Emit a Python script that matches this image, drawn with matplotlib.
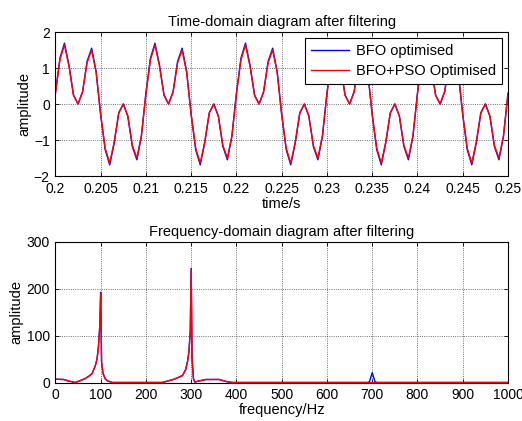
import numpy as np
import matplotlib
matplotlib.use('Agg')
import matplotlib.pyplot as plt

plt.rcParams['font.family'] = ['Liberation Sans', 'DejaVu Sans']
plt.rcParams['font.size'] = 10.5

# #############################################################################
# Time-domain samples (fs = 2000 Hz, 0.2 s .. 0.25 s)
t_start, t_end = 0.2, 0.25
bfo_time = [
    0.30, 1.27, 1.69, 1.08, 0.25, 0.00, 0.34, 1.18, 1.55, 0.90,
    -0.30, -1.27, -1.69, -1.08, -0.25, 0.00, -0.34, -1.18, -1.55, -0.90,
    0.30, 1.27, 1.69, 1.08, 0.25, 0.00, 0.34, 1.18, 1.55, 0.90,
    -0.30, -1.27, -1.69, -1.08, -0.25, 0.00, -0.34, -1.18, -1.55, -0.90,
    0.30, 1.27, 1.69, 1.08, 0.25, 0.00, 0.34, 1.18, 1.55, 0.90,
    -0.30, -1.27, -1.69, -1.08, -0.25, 0.00, -0.34, -1.18, -1.55, -0.90,
    0.30, 1.27, 1.69, 1.08, 0.25, 0.00, 0.34, 1.18, 1.55, 0.90,
    -0.30, -1.27, -1.69, -1.08, -0.25, 0.00, -0.34, -1.18, -1.55, -0.90,
    0.30, 1.27, 1.69, 1.08, 0.25, 0.00, 0.34, 1.18, 1.55, 0.90,
    -0.30, -1.27, -1.69, -1.08, -0.25, 0.00, -0.34, -1.18, -1.55, -0.90,
    0.30]
pso_time = [
    0.29, 1.23, 1.64, 1.05, 0.24, 0.00, 0.33, 1.15, 1.50, 0.88,
    -0.29, -1.23, -1.64, -1.05, -0.24, 0.00, -0.33, -1.15, -1.50, -0.88,
    0.29, 1.23, 1.64, 1.05, 0.24, 0.00, 0.33, 1.15, 1.50, 0.88,
    -0.29, -1.23, -1.64, -1.05, -0.24, 0.00, -0.33, -1.15, -1.50, -0.88,
    0.29, 1.23, 1.64, 1.05, 0.24, 0.00, 0.33, 1.15, 1.50, 0.88,
    -0.29, -1.23, -1.64, -1.05, -0.24, 0.00, -0.33, -1.15, -1.50, -0.88,
    0.29, 1.23, 1.64, 1.05, 0.24, 0.00, 0.33, 1.15, 1.50, 0.88,
    -0.29, -1.23, -1.64, -1.05, -0.24, 0.00, -0.33, -1.15, -1.50, -0.88,
    0.29, 1.23, 1.64, 1.05, 0.24, 0.00, 0.33, 1.15, 1.50, 0.88,
    -0.29, -1.23, -1.64, -1.05, -0.24, 0.00, -0.33, -1.15, -1.50, -0.88,
    0.29]
t = np.linspace(t_start, t_end, len(bfo_time))

# #############################################################################
# Spectrum breakpoints
bfo_freq = [0, 18, 30, 44, 55, 66, 75, 81, 88, 92, 95, 98, 100, 102, 105, 110,
            115, 126, 236, 259, 270, 281, 288, 292, 295, 298, 300, 302, 305,
            308, 318, 333, 362, 380, 392, 690, 694, 700, 706, 710, 1000]
bfo_amp = [7, 6.4, 3, 0, 4, 8.5, 14, 19, 35, 50, 75, 120, 192, 45, 20, 8,
           3.5, 0, 0, 6, 10, 15, 28, 45, 65, 110, 243, 50, 8,
           1, 3.5, 6.4, 6.4, 1.4, 0, 0, 2, 21, 2, 0, 0]
pso_freq = [0, 18, 30, 44, 55, 66, 75, 81, 88, 92, 95, 98, 100, 102, 105, 110,
            115, 126, 236, 259, 270, 281, 288, 292, 295, 298, 300, 302, 305,
            308, 318, 333, 362, 380, 392, 1000]
pso_amp = [7, 6.4, 3, 0, 4, 8.5, 14, 19, 35, 50, 75, 118, 188, 44, 20, 8,
           3.5, 0, 0, 6, 10, 15, 28, 45, 65, 108, 239, 50, 8,
           1, 3.5, 6.4, 6.4, 1.4, 0, 0]

W, H = 522, 421
fig = plt.figure(figsize=(W / 100, H / 100), dpi=100)
ax1 = fig.add_axes([55.4 / W, 1 - 176 / H, 452.6 / W, 144 / H])
ax2 = fig.add_axes([55.4 / W, 1 - 382.5 / H, 452.6 / W, 141 / H])


def style(ax):
    ax.grid(True, color='0.25', linestyle=':', linewidth=0.6)
    ax.tick_params(direction='in', top=True, right=True, length=3, width=0.6,
                   labelsize=10, pad=4)
    for s in ax.spines.values():
        s.set_linewidth(0.8)


lw = 1.0
ax1.plot(t, bfo_time, color='blue', lw=lw, label='BFO optimised')
ax1.plot(t, pso_time, color='red', lw=lw, label='BFO+PSO Optimised')
ax1.set_xlim(t_start, t_end)
ax1.set_ylim(-2, 2)
ax1.set_xticks([0.2, 0.205, 0.21, 0.215, 0.22, 0.225, 0.23, 0.235, 0.24, 0.245, 0.25])
ax1.set_xticklabels(['0.2', '0.205', '0.21', '0.215', '0.22', '0.225', '0.23',
                     '0.235', '0.24', '0.245', '0.25'])
ax1.set_yticks([-2, -1, 0, 1, 2])
ax1.set_xlabel('time/s', labelpad=1)
ax1.set_ylabel('amplitude', labelpad=2)
ax1.set_title('Time-domain diagram after filtering', fontsize=10.5, pad=4)
leg = ax1.legend(loc='upper right', fancybox=False, framealpha=1,
                 edgecolor='k', handlelength=2.6, handletextpad=0.5,
                 borderaxespad=0.4, labelspacing=0.45, fontsize=10.5)
leg.get_frame().set_linewidth(0.8)
style(ax1)

ax2.plot(bfo_freq, bfo_amp, color='blue', lw=lw)
ax2.plot(pso_freq, pso_amp, color='red', lw=lw)
ax2.set_xlim(0, 1000)
ax2.set_ylim(0, 300)
ax2.set_xticks(range(0, 1001, 100))
ax2.set_yticks([0, 100, 200, 300])
ax2.set_xlabel('frequency/Hz', labelpad=1)
ax2.set_ylabel('amplitude', labelpad=2)
ax2.set_title('Frequency-domain diagram after filtering', fontsize=10.5, pad=4)
style(ax2)

fig.savefig('out.png', dpi=100)
